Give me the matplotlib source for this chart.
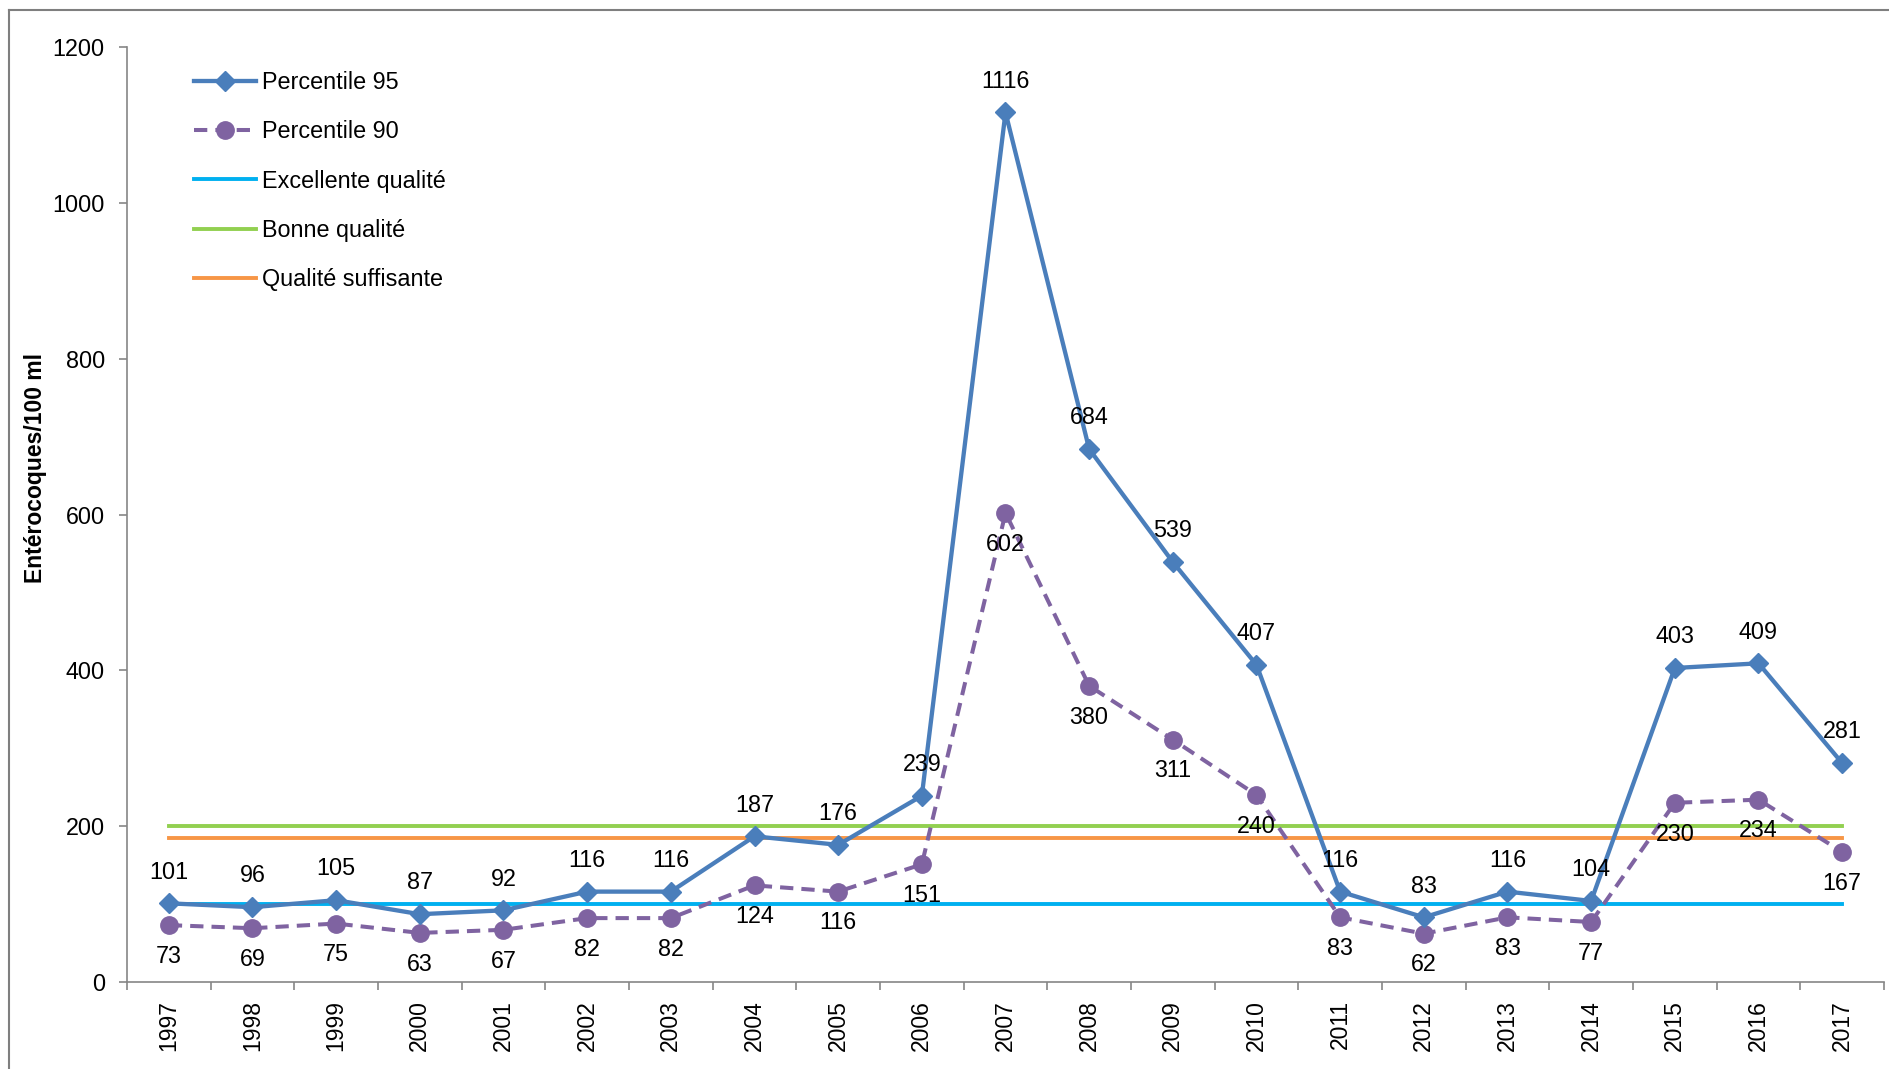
import matplotlib
matplotlib.use("Agg")
import matplotlib.pyplot as plt
from matplotlib.lines import Line2D
import numpy as np

plt.rcParams['font.family'] = ['Liberation Sans', 'DejaVu Sans']

years = ['1997', '1998', '1999', '2000', '2001', '2002', '2003', '2004', '2005', '2006',
         '2007', '2008', '2009', '2010', '2011', '2012', '2013', '2014', '2015', '2016', '2017']
p95 = [101, 96, 105, 87, 92, 116, 116, 187, 176, 239, 1116, 684, 539, 407, 116, 83, 116, 104, 403, 409, 281]
p90 = [73, 69, 75, 63, 67, 82, 82, 124, 116, 151, 602, 380, 311, 240, 83, 62, 83, 77, 230, 234, 167]
excellente = 100
bonne = 200
suffisante = 185

W, H = 1890, 1069
fig = plt.figure(figsize=(W / 100, H / 100), dpi=100)
ax = fig.add_axes([127 / W, (H - 982) / H, (1884 - 127) / W, (982 - 47) / H])

x = np.arange(len(years))
blue = '#4A7EBB'
purple = '#7F63A1'
fs = 16.8

ax.plot(x, p95, color=blue, lw=3.1, marker='D', markersize=10, label='Percentile 95', zorder=4)
ax.plot(x, p90, color=purple, lw=2.9, ls=(0, (3.3, 2)), marker='o', markersize=12.5,
        label='Percentile 90', zorder=3)
ax.plot(x, [excellente] * len(x), color='#00B0F0', lw=2.8, label='Excellente qualité', zorder=2)
ax.plot(x, [bonne] * len(x), color='#92D050', lw=2.8, label='Bonne qualité', zorder=2)
ax.plot(x, [suffisante] * len(x), color='#F79646', lw=2.8, label='Qualité suffisante', zorder=2)

for xi, v in zip(x, p95):
    ax.annotate(str(v), (xi, v), xytext=(0, 22.5), textcoords='offset points',
                ha='center', va='center', fontsize=fs, color='black', zorder=6)
for xi, v in zip(x, p90):
    ax.annotate(str(v), (xi, v), xytext=(0, -22.5), textcoords='offset points',
                ha='center', va='center', fontsize=fs, color='black', zorder=6)

ax.set_xlim(-0.5, len(years) - 0.5)
ax.set_ylim(0, 1200)
ax.set_yticks(np.arange(0, 1201, 200))
ax.set_xticks(x)
ax.set_xticklabels(years, rotation=90, fontsize=16.5)
ax.set_xticks(np.arange(-0.5, len(years)), minor=True)
ax.tick_params(axis='x', which='major', length=0, pad=13)
ax.tick_params(axis='x', which='minor', length=6, width=1.2, color='#868686', direction='out')
ax.tick_params(axis='y', length=6, width=1.2, color='#868686', direction='out', pad=10, labelsize=fs)

for s in ['top', 'right']:
    ax.spines[s].set_visible(False)
for s in ['left', 'bottom']:
    ax.spines[s].set_color('#868686')
    ax.spines[s].set_linewidth(1.2)

fig.text(36 / W, 1 - 468 / H, 'Entérocoques/100 ml', rotation=90, ha='center', va='center',
         fontsize=16.5, fontweight='bold')

leg = ax.legend(loc='upper left', bbox_to_anchor=((185 - 127) / (1884 - 127), 1 - (62 - 47) / (982 - 47)),
                frameon=False, fontsize=fs, handlelength=2.66, handletextpad=0.26,
                labelspacing=1.12, borderaxespad=0)

# frame of the chart area
fig.add_artist(Line2D([9 / W, 9 / W], [0, 1 - 10 / H], transform=fig.transFigure, color='#7F7F7F', lw=1.5))
fig.add_artist(Line2D([9 / W, 1], [1 - 10 / H, 1 - 10 / H], transform=fig.transFigure, color='#7F7F7F', lw=1.5))

fig.savefig('out.png', dpi=100)
